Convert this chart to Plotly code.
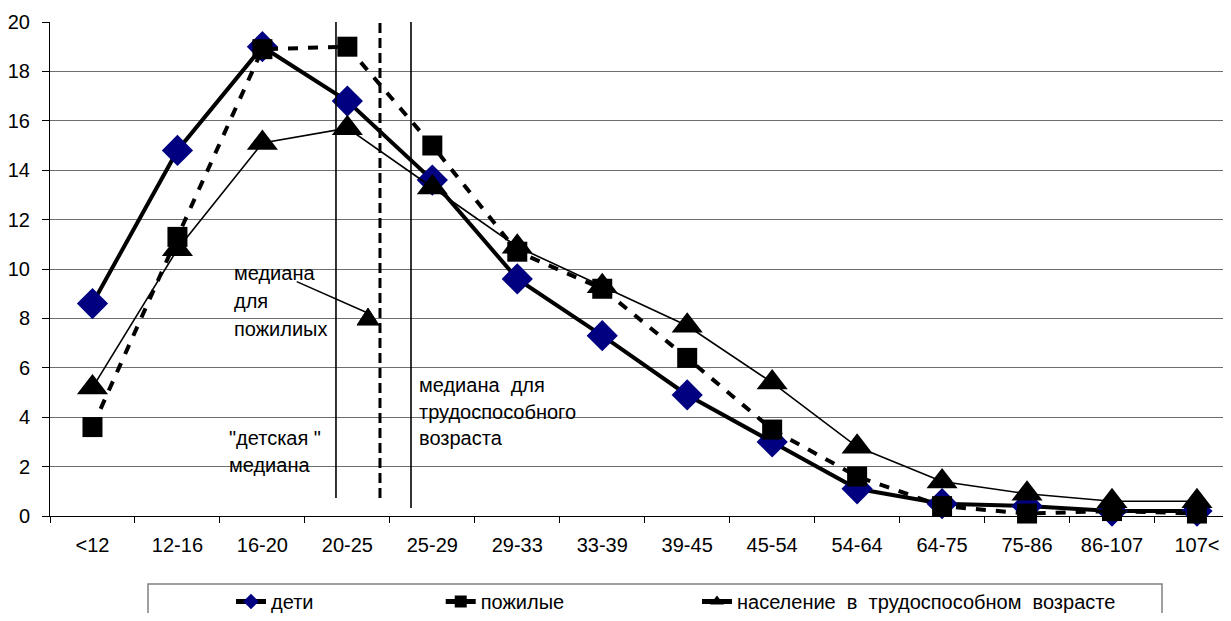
import plotly.graph_objects as go

# ---- data ----
categories = ["<12", "12-16", "16-20", "20-25", "25-29", "29-33", "33-39",
              "39-45", "45-54", "54-64", "64-75", "75-86", "86-107", "107<"]
deti = [8.6, 14.8, 19.0, 16.8, 13.6, 9.6, 7.3, 4.9, 3.0, 1.1, 0.5, 0.4, 0.2, 0.2]
pozhilye = [3.6, 11.3, 18.9, 19.0, 15.0, 10.7, 9.2, 6.4, 3.5, 1.6, 0.4, 0.1, 0.2, 0.1]
trudosp = [5.2, 10.8, 15.1, 15.7, 13.3, 10.9, 9.3, 7.7, 5.4, 2.8, 1.4, 0.9, 0.6, 0.6]
y_ticks = [0, 2, 4, 6, 8, 10, 12, 14, 16, 18, 20]

x_pos = list(range(len(categories)))
FONT = "Liberation Sans, Arial, sans-serif"
NB = "\u00a0"

# page layout: the page body has an 8px margin, so the figure is kept inside the window
FIG_W, FIG_H = 1215, 605
ML, MT, MB = 42, 14, 97
PL, PT = 50, 22                      # plot-area origin in page pixels
PW, PH = FIG_W - ML, FIG_H - MT - MB  # 1173 x 494
CAT_PX = 84.96                        # pixels per category
def px_x(p):
    return (p - PL) / PW
def px_y(p):
    return (PT + PH - p) / PH

fig = go.Figure()
fig.add_trace(go.Scatter(
    x=x_pos, y=deti, mode="lines+markers", name="дети" + NB * 22,
    line=dict(color="black", width=4),
    marker=dict(symbol="diamond", size=24, color="#000080", line=dict(width=0)),
    cliponaxis=False))
fig.add_trace(go.Scatter(
    x=x_pos, y=pozhilye, mode="lines+markers", name="пожилые" + NB * 23,
    line=dict(color="black", width=4, dash="10px,10px"),
    marker=dict(symbol="square", size=20, color="black", line=dict(width=0)),
    cliponaxis=False))
fig.add_trace(go.Scatter(
    x=x_pos, y=trudosp, mode="lines+markers",
    name="население  в  трудоспособном  возрасте",
    line=dict(color="black", width=1.6),
    marker=dict(symbol="triangle-up", size=27, color="black", line=dict(width=0)),
    cliponaxis=False))

# median lines (x in category-index units)
median_lines = [
    dict(x=2.866, y0=0.73, dash="solid", width=1.6),
    dict(x=3.384, y0=0.73, dash="10px,5px", width=3),
    dict(x=3.749, y0=0.32, dash="solid", width=1.6),
]
shapes = []
for m in median_lines:
    shapes.append(dict(type="line", xref="x", yref="y", x0=m["x"], x1=m["x"],
                       y0=m["y0"], y1=20, line=dict(color="black", width=m["width"], dash=m["dash"])))
# arrow for "медиана для пожилиых"
shapes.append(dict(type="line", xref="x", yref="y", x0=2.404, y0=9.49, x1=3.22, y1=8.25,
                   line=dict(color="black", width=1.5)))
shapes.append(dict(type="path", xref="x", yref="y",
                   path="M 3.243 8.42 L 3.114 7.73 L 3.372 7.73 Z",
                   fillcolor="black", line=dict(color="black", width=1)))
# legend frame
shapes.append(dict(type="rect", xref="paper", yref="paper",
                   x0=px_x(148), x1=px_x(1162), y0=px_y(640), y1=px_y(584),
                   line=dict(color="#808080", width=1.5), fillcolor="rgba(0,0,0,0)", layer="below"))

texts = [
    ("медиана", 1.642, 9.84), ("для", 1.642, 8.70), ("пожилиых", 1.642, 7.57),
    ('"детская "', 1.58, 3.16), ("медиана", 1.58, 2.06),
    ("медиана  для", 3.816, 5.30), ("трудоспособного", 3.816, 4.22), ("возраста", 3.816, 3.16),
]
annotations = [dict(text=t, x=x, y=y, xref="x", yref="y", xanchor="left", yanchor="middle",
                    showarrow=False, font=dict(family=FONT, size=20, color="black"))
               for t, x, y in texts]

fig.update_layout(
    width=FIG_W, height=FIG_H,
    margin=dict(l=ML, r=0, t=MT, b=MB, autoexpand=False),
    plot_bgcolor="white", paper_bgcolor="white",
    font=dict(family=FONT, size=20, color="black"),
    shapes=shapes, annotations=annotations,
    showlegend=True,
    legend=dict(orientation="h", x=px_x(231), xanchor="left",
                y=px_y(582), yanchor="top", itemsizing="constant",
                borderwidth=0, bgcolor="rgba(0,0,0,0)",
                font=dict(family=FONT, size=20, color="black")),
    xaxis=dict(range=[-0.5, -0.5 + PW / CAT_PX], tickmode="array", tickvals=x_pos,
               ticktext=categories,
               ticks="", showline=True, linecolor="black", linewidth=1, automargin=False,
               showgrid=False, zeroline=False, ticklabelstandoff=11,
               tickfont=dict(family=FONT, size=20, color="black"),
               minor=dict(tickmode="array", tickvals=[i - 0.5 for i in range(len(categories) + 1)],
                          ticks="outside", ticklen=6, tickcolor="black", tickwidth=1, showgrid=False)),
    yaxis=dict(range=[0, 20], tickmode="array", tickvals=y_ticks, automargin=False,
               ticks="outside", ticklen=7, tickcolor="black", showline=True, linecolor="black",
               linewidth=1, showgrid=True, gridcolor="#6e6e6e", gridwidth=1, zeroline=False,
               ticklabelstandoff=8, tickfont=dict(family=FONT, size=20, color="black")),
)

fig.write_html("out.html")
